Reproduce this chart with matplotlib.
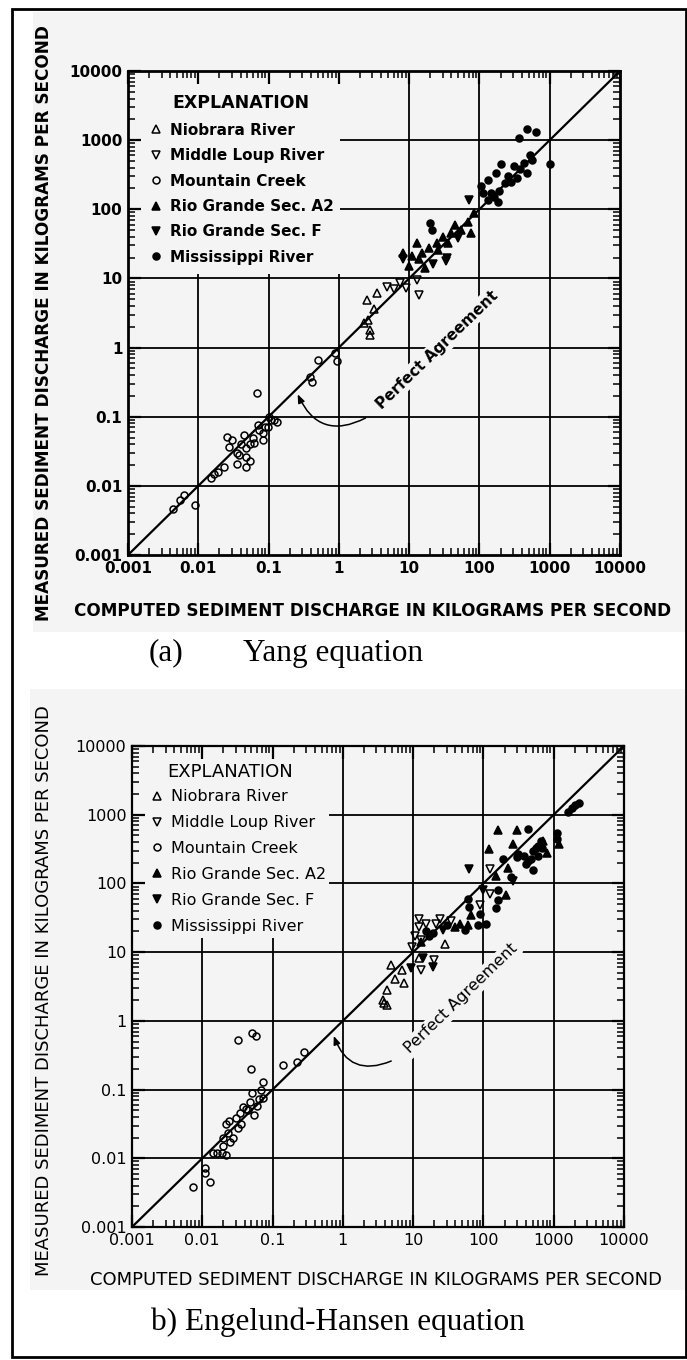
import matplotlib
matplotlib.use("Agg")
import matplotlib.pyplot as plt
from matplotlib.patches import Rectangle
from matplotlib.ticker import LogLocator, NullFormatter

W, H = 687, 1360

series_names = ["Niobrara River", "Middle Loup River", "Mountain Creek",
                "Rio Grande Sec. A2", "Rio Grande Sec. F", "Mississippi River"]
decades = [0.001, 0.01, 0.1, 1, 10, 100, 1000, 10000]
decade_labels = ["0.001", "0.01", "0.1", "1", "10", "100", "1000", "10000"]

# (a) Yang equation: computed (x) vs measured (y), kg/s
yang_niobrara_x = [2.3, 2.6, 2.75, 2.8, 2.5, 3.5, 3.2]
yang_niobrara_y = [2.3, 2.5, 1.8, 1.5, 4.9, 6.2, 3.6]
yang_loup_x = [4.8, 7.4, 13, 14, 6.0, 9.0]
yang_loup_y = [7.6, 8.7, 9.5, 5.8, 7.0, 7.2]
yang_creek_x = [0.026, 0.030, 0.035, 0.048, 0.055, 0.083, 0.098, 0.11, 0.13, 0.083,
                0.062, 0.048, 0.035, 0.023, 0.017, 0.015, 0.019, 0.048, 0.072, 0.0044,
                0.0055, 0.0063, 0.0089, 0.50, 0.39, 0.42, 0.87, 0.93, 0.068, 0.040,
                0.060, 0.038, 0.027, 0.070, 0.090, 0.10, 0.12, 0.055, 0.045]
yang_creek_y = [0.051, 0.046, 0.030, 0.026, 0.023, 0.059, 0.071, 0.089, 0.083, 0.046,
                0.042, 0.035, 0.021, 0.019, 0.015, 0.013, 0.016, 0.019, 0.065, 0.0047,
                0.0063, 0.0074, 0.0052, 0.66, 0.38, 0.32, 0.83, 0.65, 0.22, 0.040,
                0.050, 0.028, 0.036, 0.075, 0.070, 0.10, 0.090, 0.040, 0.055]
yang_a2_x = [10, 8.1, 13, 25, 30, 40, 36, 55, 69, 76, 85, 26, 19, 15, 14, 11, 17, 45]
yang_a2_y = [15, 23, 33, 33, 40, 46, 33, 51, 65, 46, 89, 26, 28, 23, 19, 21, 14, 60]
yang_f_x = [72, 34, 35, 8.1, 22, 50]
yang_f_y = [138, 18, 20, 19, 16, 38]
yang_miss_x = [20, 21, 363, 468, 630, 1000, 525, 427, 380, 309, 200, 170, 251, 339,
               468, 132, 105, 112, 145, 191, 182, 132, 280, 560, 230, 160]
yang_miss_y = [63, 51, 1070, 1450, 1290, 457, 617, 468, 380, 417, 447, 339, 302, 288,
               339, 269, 219, 174, 174, 182, 126, 138, 250, 520, 240, 150]

# (b) Engelund-Hansen equation
eh_niobrara_x = [4.8, 6.9, 7.4, 5.6, 4.2, 3.7, 4.2, 28, 3.9, 12]
eh_niobrara_y = [6.5, 5.5, 3.5, 4.0, 2.8, 2.0, 1.7, 13, 1.8, 8.3]
eh_loup_x = [123, 123, 89, 35, 24, 21, 15, 12, 12, 10.5, 13, 20, 13, 9.5]
eh_loup_y = [162, 71, 48, 28, 30, 26, 26, 30, 23, 17, 5.5, 7.8, 15, 12]
eh_creek_x = [0.032, 0.051, 0.059, 0.050, 0.14, 0.22, 0.28, 0.074, 0.069, 0.074,
              0.065, 0.051, 0.048, 0.038, 0.042, 0.055, 0.034, 0.030, 0.035, 0.022,
              0.024, 0.032, 0.023, 0.027, 0.020, 0.025, 0.020, 0.016, 0.019, 0.022,
              0.014, 0.011, 0.011, 0.013, 0.0074, 0.060, 0.045]
eh_creek_y = [0.52, 0.66, 0.60, 0.20, 0.23, 0.25, 0.35, 0.13, 0.10, 0.076,
              0.074, 0.089, 0.065, 0.056, 0.052, 0.043, 0.046, 0.039, 0.032, 0.032,
              0.035, 0.028, 0.023, 0.020, 0.020, 0.017, 0.015, 0.012, 0.012, 0.011,
              0.012, 0.0072, 0.0061, 0.0045, 0.0038, 0.058, 0.050]
eh_a2_x = [300, 260, 1200, 810, 120, 150, 225, 210, 66, 60, 46, 39, 13, 160, 700]
eh_a2_y = [600, 380, 370, 280, 315, 130, 170, 68, 35, 25, 26, 23, 14, 600, 420]
eh_f_x = [63, 260, 27, 9.3, 19, 14, 100]
eh_f_y = [162, 110, 21, 5.9, 6.0, 8.3, 80]
eh_miss_x = [1600, 1800, 2000, 2300, 430, 1100, 660, 560, 590, 480, 380, 310, 500,
             430, 690, 190, 245, 160, 160, 150, 60, 63, 89, 110, 83, 54, 30, 19, 15,
             17, 1100, 500, 300, 600, 400]
eh_miss_y = [1100, 1250, 1400, 1500, 620, 550, 410, 330, 250, 225, 250, 270, 155,
             215, 330, 225, 123, 79, 58, 44, 60, 46, 36, 26, 25, 21, 25, 19, 20,
             17, 450, 300, 240, 350, 190]

yang_data = [(yang_niobrara_x, yang_niobrara_y), (yang_loup_x, yang_loup_y),
             (yang_creek_x, yang_creek_y), (yang_a2_x, yang_a2_y),
             (yang_f_x, yang_f_y), (yang_miss_x, yang_miss_y)]
eh_data = [(eh_niobrara_x, eh_niobrara_y), (eh_loup_x, eh_loup_y),
           (eh_creek_x, eh_creek_y), (eh_a2_x, eh_a2_y),
           (eh_f_x, eh_f_y), (eh_miss_x, eh_miss_y)]

markers = [("^", False), ("v", False), ("o", False), ("^", True), ("v", True), ("o", True)]
BG = "#f4f4f4"


def px_rect(x0, y0, x1, y1):
    # pixel box (top-left origin) -> figure fraction rect
    return [x0 / W, 1 - y1 / H, (x1 - x0) / W, (y1 - y0) / H]


def draw_panel(ax, data, weight, spine_w, cover, title_pos, title_size, leg_anchor,
               leg_size, tick_size, note_xy, note_size, lead_from, lead_to):
    ax.set_xscale("log")
    ax.set_yscale("log")
    ax.set_xlim(0.001, 10000)
    ax.set_ylim(0.001, 10000)
    ax.set_facecolor("none")

    # grid at inner decades, masked where the explanation sits
    for d in decades[1:-1]:
        ax.axhline(d, color="black", lw=1.3, zorder=0.6)
        ax.axvline(d, color="black", lw=1.3, zorder=0.6)
    ax.add_patch(Rectangle((0, cover[1]), cover[0], 1 - cover[1], transform=ax.transAxes,
                           facecolor=BG, edgecolor="none", zorder=0.8))

    ax.plot([0.001, 10000], [0.001, 10000], color="black", lw=1.6, zorder=1.2)

    for (xs, ys), name, (m, filled) in zip(data, series_names, markers):
        ax.plot(xs, ys, ls="none", marker=m, ms=5.5 if m != "o" else 5,
                mfc="black" if filled else "none", mec="black", mew=1.1,
                label=name, zorder=3)

    ax.set_xticks(decades)
    ax.set_xticklabels(decade_labels)
    ax.set_yticks(decades)
    ax.set_yticklabels(decade_labels)
    for axis in (ax.xaxis, ax.yaxis):
        axis.set_minor_locator(LogLocator(base=10, subs=range(2, 10), numticks=20))
        axis.set_minor_formatter(NullFormatter())
    ax.tick_params(which="both", direction="in", top=True, right=True, color="black")
    ax.tick_params(which="major", length=9, width=1.6, labelsize=tick_size, pad=4)
    ax.tick_params(which="minor", length=5, width=1.1)
    for lab in ax.get_xticklabels() + ax.get_yticklabels():
        lab.set_fontweight(weight)
    for sp in ax.spines.values():
        sp.set_linewidth(spine_w)

    ax.text(title_pos[0], title_pos[1], "EXPLANATION", transform=ax.transAxes,
            fontsize=title_size, fontweight=weight, ha="left", va="center")
    ax.legend(loc="upper left", bbox_to_anchor=leg_anchor, frameon=False,
              handlelength=0.8, handletextpad=0.5, labelspacing=0.68,
              borderaxespad=0, borderpad=0,
              prop={"size": leg_size, "weight": weight})

    ax.text(note_xy[0], note_xy[1], "Perfect Agreement", rotation=44,
            rotation_mode="anchor", ha="center", va="center", fontsize=note_size,
            fontweight=weight, zorder=2,
            bbox=dict(facecolor=BG, edgecolor="none", pad=1.5))
    ax.annotate("", xy=lead_to, xytext=lead_from,
                arrowprops=dict(arrowstyle="-|>,head_length=0.5,head_width=0.2",
                                color="black", lw=1.1,
                                connectionstyle="arc3,rad=-0.55"), zorder=2)


fig = plt.figure(figsize=(W / 100, H / 100), dpi=100)

# page backgrounds behind each panel and the outer frame
fig.patches.append(Rectangle((33 / W, 1 - 632 / H), (W - 33) / W, 620 / H,
                             transform=fig.transFigure, facecolor=BG, edgecolor="none", zorder=-2))
fig.patches.append(Rectangle((30 / W, 1 - 1290 / H), (W - 30) / W, 601 / H,
                             transform=fig.transFigure, facecolor=BG, edgecolor="none", zorder=-2))
fig.patches.append(Rectangle((12 / W, 3 / H), (W - 13) / W, (H - 12) / H,
                             transform=fig.transFigure, facecolor="none", edgecolor="black",
                             lw=2, zorder=5))

ax_a = fig.add_axes(px_rect(128, 71, 620, 555))
draw_panel(ax_a, yang_data, "bold", 2.0, cover=(0.43, 0.58),
           title_pos=(0.091, 0.934), title_size=12.5, leg_anchor=(0.045, 0.893),
           leg_size=11, tick_size=11, note_xy=(25, 0.93), note_size=11,
           lead_from=(2.6, 0.10), lead_to=(0.25, 0.23))
ax_a.set_xlabel("COMPUTED SEDIMENT DISCHARGE IN KILOGRAMS PER SECOND",
                fontsize=12.2, fontweight="bold")
ax_a.set_ylabel("MEASURED SEDIMENT DISCHARGE IN KILOGRAMS PER SECOND",
                fontsize=12.2, fontweight="bold")
ax_a.xaxis.set_label_coords((373 - 128) / 492, -(602 - 555) / 484)
ax_a.yaxis.set_label_coords(-(128 - 53) / 492, 1 - (323 - 71) / 484)

ax_b = fig.add_axes(px_rect(132, 746, 624, 1227))
draw_panel(ax_b, eh_data, "normal", 1.6, cover=(0.40, 0.60),
           title_pos=(0.071, 0.946), title_size=13, leg_anchor=(0.037, 0.910),
           leg_size=11.5, tick_size=11.5, note_xy=(48, 2.1), note_size=11.5,
           lead_from=(5.3, 0.27), lead_to=(0.72, 0.66))
ax_b.set_xlabel("COMPUTED SEDIMENT DISCHARGE IN KILOGRAMS PER SECOND", fontsize=13)
ax_b.set_ylabel("MEASURED SEDIMENT DISCHARGE IN KILOGRAMS PER SECOND", fontsize=13)
ax_b.xaxis.set_label_coords((376 - 132) / 492, -(1271 - 1227) / 481)
ax_b.yaxis.set_label_coords(-(132 - 53) / 492, 1 - (991 - 746) / 481)

serif = "Liberation Serif"
fig.text(149 / W, 1 - 653 / H, "(a)", fontsize=22.5, family=serif, ha="left", va="center")
fig.text(243 / W, 1 - 653 / H, "Yang equation", fontsize=22.5, family=serif,
         ha="left", va="center")
fig.text(338 / W, 1 - 1322 / H, "b) Engelund-Hansen equation", fontsize=22.5,
         family=serif, ha="center", va="center")

fig.savefig("out.png", dpi=100)
